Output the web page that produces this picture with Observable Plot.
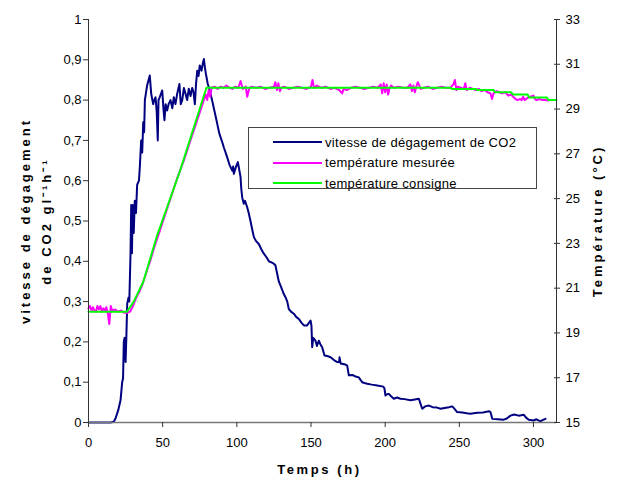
<!DOCTYPE html>
<html><head><meta charset="utf-8">
<script src="https://cdn.jsdelivr.net/npm/d3@7"></script>
<script src="https://cdn.jsdelivr.net/npm/@observablehq/plot@0.6"></script>
<style>
body{margin:0;background:#fff;font-family:"Liberation Sans",Arial,sans-serif;}
#wrap{position:relative;width:617px;height:484px;}
#legend{position:absolute;left:248px;top:127px;width:289px;height:62px;border:1px solid #444;background:#fff;box-sizing:border-box;}
.row{position:absolute;left:24px;height:20px;display:flex;align-items:center;font-size:13px;letter-spacing:0.3px;color:#000;white-space:nowrap;}
.sw{width:49px;height:2px;margin-right:3px;}
.lblx text{letter-spacing:2.6px;}
.lbly text{letter-spacing:3px;}
</style></head>
<body><div id="wrap"></div>
<script>
// ---- data ----
const xTicks = [0,50,100,150,200,250,300];
const leftTicks = [0,0.1,0.2,0.3,0.4,0.5,0.6,0.7,0.8,0.9,1];
const tempTicks = [15,17,19,21,23,25,27,29,31,33];
const xMax = 315.5;
const seriesNames = ["vitesse de dégagement de CO2","température mesurée","température consigne"];
const seriesColors = ["#000080","#ff00ff","#00ff00"];

const co2T = [0,15,17,18.2,20,21.6,22.7,23.3,23.8,24.3,25,25.5,26.1,27,27.5,28.3,28.8,29.3,29.8,30.5,31.2,32,32.8,34,34.6,35.5,36.2,36.9,37.5,38,39.5,40.5,41.3,42.3,43.6,44.3,45.2,46,46.7,47.2,48,49.7,50.5,51.2,52,53,54,55.3,56.5,57.5,58.6,59.8,61.3,62.2,63.2,64.3,65.4,66.5,67.6,68.8,69.9,70.8,71.7,72.5,73.3,74.2,75,76.2,77,77.8,78.5,79.1,80.4,81.3,82.2,83.3,84.5,85.7,86.8,88,89,90.2,91.2,92.4,93.5,95,96.9,97.5,98,99,100,100.7,101.5,102.5,103,103.6,104.7,105.5,107,108,109.2,110.3,111.5,113,114.8,116.5,118.2,120,121.6,123.5,124.9,126,127.2,128.3,129.4,130.5,131.5,132.8,134,135,136.5,138.4,140,141.8,143.5,145.2,147.4,149.7,150.3,150.8,151.5,153,154,155.3,156.2,157.5,159.1,161,163.2,165.5,167.7,169,169.2,170,171,173,174.4,175.5,178,180,182.2,183.5,184.5,186,187.9,191,194.6,198.7,199.5,200.2,201.3,202.5,204,205.8,208,210.3,213,217.1,220,222.7,223.5,225,227,229.5,232,235,237.3,240,243,245.2,246.5,248.5,252,255,257.5,262,266,269.9,271,272.2,276,280,282,284.5,287,290,293.5,295,296.8,300,302,304.7,306,308.1];
const co2V = [0,0,0.002,0.01,0.03,0.055,0.1,0.11,0.2,0.21,0.15,0.21,0.295,0.31,0.3,0.414,0.54,0.42,0.54,0.47,0.55,0.52,0.59,0.6,0.634,0.70,0.67,0.745,0.72,0.80,0.836,0.85,0.861,0.815,0.79,0.80,0.807,0.77,0.70,0.80,0.807,0.824,0.78,0.75,0.79,0.774,0.79,0.80,0.78,0.807,0.79,0.816,0.84,0.79,0.80,0.83,0.816,0.80,0.828,0.81,0.83,0.82,0.79,0.84,0.873,0.86,0.886,0.873,0.89,0.902,0.88,0.866,0.84,0.83,0.816,0.80,0.78,0.76,0.741,0.72,0.708,0.695,0.683,0.67,0.658,0.64,0.625,0.635,0.617,0.63,0.64,0.646,0.63,0.609,0.58,0.559,0.543,0.55,0.534,0.52,0.50,0.48,0.46,0.45,0.443,0.43,0.419,0.41,0.40,0.397,0.394,0.39,0.369,0.35,0.34,0.33,0.32,0.311,0.30,0.282,0.275,0.27,0.262,0.257,0.248,0.241,0.241,0.253,0.24,0.187,0.21,0.203,0.19,0.203,0.195,0.187,0.166,0.165,0.162,0.155,0.15,0.15,0.162,0.146,0.146,0.144,0.141,0.117,0.118,0.114,0.112,0.105,0.10,0.098,0.096,0.094,0.092,0.089,0.085,0.067,0.07,0.071,0.065,0.059,0.062,0.059,0.058,0.055,0.057,0.059,0.05,0.034,0.04,0.042,0.038,0.037,0.034,0.036,0.038,0.040,0.035,0.026,0.025,0.023,0.022,0.024,0.025,0.028,0.026,0.009,0.008,0.007,0.01,0.017,0.02,0.017,0.019,0.012,0.007,0.005,0.008,0.003,0.006,0.009];

const measT = [0,1,2,3,4,5,6,7,8,9,10,11,12,13,14,15,16,18,20,22,24,26,28,30,32,34,36,38,40,42,44,46,48,50,52,54,56,58,60,62,64,66,68,70,72,74,76,78,79,80,81,82,83,85,87,89,91,93,95,97,99,101,102.5,104,106,107,108.5,110,113,116,119,122,125,126,127,128,129,130,132,135,138,141,144,147,150,151,152,154,157,160,163,166,169,171,172,174,177,180,183,186,189,192,195,197,198,199,200,201,202,203,204,206,209,212,215,217,218,219,220,221,222,224,226,229,232,235,238,241,244,246,247,248,249,251,253,254,255,257,259,261,263,265,267,269,271,272,273,275,277,279,281,283,285,287,289,291,292,293,294,296,298,300,301,302,304,306,308,310];
const measV = [20.1,20.2,20.0,20.15,20.0,19.95,20.2,20.05,20.2,19.95,20.1,20.0,20.15,19.9,19.4,20.2,20.0,20.05,19.95,20.0,19.9,19.9,19.95,20.2,20.55,20.8,21.1,21.5,21.9,22.3,22.75,23.15,23.55,23.95,24.35,24.75,25.15,25.55,25.95,26.3,26.65,27.05,27.45,27.85,28.25,28.65,29.05,29.45,29.65,29.4,29.85,29.55,29.95,30.0,29.9,30.0,29.95,30.05,29.95,29.9,30.0,29.95,30.25,29.9,30.0,29.55,29.95,30.0,29.95,30.0,29.9,29.95,30.0,30.2,29.85,30.15,29.8,29.95,30.0,29.9,29.95,30.0,29.95,29.9,30.0,30.3,29.95,30.05,29.95,30.0,29.9,29.95,29.85,29.7,29.9,29.85,29.95,30.0,29.95,29.9,29.95,30.0,29.95,30.1,29.7,30.15,29.75,30.1,29.65,29.95,30.05,29.95,30.0,29.95,29.95,30.1,29.8,30.05,29.75,30.0,30.2,29.9,29.95,30.0,29.9,29.95,30.0,29.95,29.95,30.1,30.3,29.85,30.0,29.95,29.9,30.15,29.85,29.95,29.9,29.85,29.9,29.8,29.85,29.75,29.7,29.45,29.7,29.8,29.75,29.7,29.75,29.6,29.65,29.5,29.4,29.45,29.4,29.55,29.4,29.5,29.55,29.6,29.45,29.4,29.45,29.4,29.4,29.38];

const setT = [0,26,30.5,37,46,62,79.5,244,245,261,262,273,274,285,286,296,297,309,310,315.5];
const setV = [19.95,19.95,20.4,21.3,23.3,26.3,29.95,29.95,29.9,29.9,29.85,29.85,29.75,29.75,29.65,29.65,29.52,29.52,29.4,29.4];

// ---- build ----
const toY = t => (t - 15) / 18;   // right-axis temperature -> left-axis scale
const co2 = co2T.map((t,i) => ({t, v: co2V[i]}));
const meas = measT.map((t,i) => ({t, v: toY(measV[i])}));
const cons = setT.map((t,i) => ({t, v: toY(setV[i])}));

const chart = Plot.plot({
  width: 617, height: 484,
  marginLeft: 88, marginRight: 61, marginTop: 19, marginBottom: 62,
  x: {domain: [0, xMax]},
  y: {domain: [0, 1]},
  style: {fontFamily: "'Liberation Sans', Arial, sans-serif", fontSize: "13px", color: "#000", background: "#fff"},
  marks: [
    Plot.line(co2, {x: "t", y: "v", stroke: seriesColors[0], strokeWidth: 2}),
    Plot.line(meas, {x: "t", y: "v", stroke: seriesColors[1], strokeWidth: 2}),
    Plot.line(cons, {x: "t", y: "v", stroke: seriesColors[2], strokeWidth: 2}),
    Plot.ruleX([0, xMax], {stroke: "#333"}),
    Plot.ruleY([0], {stroke: "#777", strokeWidth: 1.5}),
    Plot.axisY({ticks: leftTicks, tickFormat: d => String(d).replace(".", ","), tickSize: 5, tickPadding: 2, label: null, stroke: "#333"}),
    Plot.axisY({anchor: "right", ticks: tempTicks.map(toY), tickFormat: (d, i) => tempTicks[i], tickSize: 6, dx: -3, tickPadding: 6, label: null, stroke: "#333"}),
    Plot.axisX({ticks: xTicks, tickSize: 5, tickPadding: 10, label: null, stroke: "#333"}),
    Plot.text(["Temps (h)"], {frameAnchor: "bottom", textAnchor: "middle", dy: 51, dx: -3, fontWeight: "bold", fontSize: 13, className: "lblx"}),
    Plot.text(["vitesse de dégagement\nde CO2 gl\u207B\u00B9h\u207B\u00B9"], {frameAnchor: "left", textAnchor: "middle", rotate: -90, dx: -55, lineHeight: 1.6, fontWeight: "bold", fontSize: 13, className: "lbly"}),
    Plot.text(["Température (°C)"], {frameAnchor: "right", textAnchor: "middle", rotate: -90, dx: 41, fontWeight: "bold", fontSize: 13, className: "lbly"})
  ]
});
const wrap = document.getElementById("wrap");
wrap.appendChild(chart);

const legend = document.createElement("div");
legend.id = "legend";
seriesNames.forEach((name, i) => {
  const row = document.createElement("div");
  row.className = "row";
  row.style.top = (4 + i * 20.5) + "px";
  const sw = document.createElement("div");
  sw.className = "sw";
  sw.style.background = seriesColors[i];
  const lab = document.createElement("span");
  lab.textContent = name;
  row.appendChild(sw); row.appendChild(lab);
  legend.appendChild(row);
});
wrap.appendChild(legend);
</script></body></html>
